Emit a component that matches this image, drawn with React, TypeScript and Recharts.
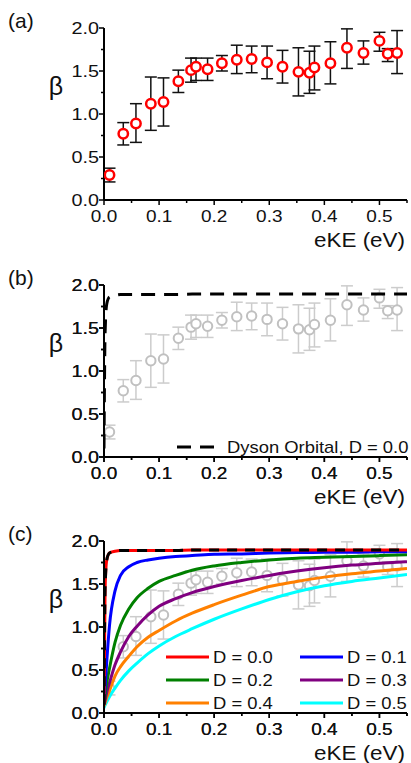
import React from 'react';
import { ComposedChart, Line, XAxis, YAxis, ErrorBar } from 'recharts';

// measured points (eKE in eV, beta with error bar ends)
const eke = [0.010, 0.035, 0.058, 0.085, 0.108, 0.135, 0.158, 0.167, 0.188, 0.214, 0.241, 0.268, 0.296, 0.324, 0.353, 0.373, 0.382, 0.411, 0.441, 0.471, 0.500, 0.515, 0.532];
const beta = [0.29, 0.77, 0.89, 1.12, 1.14, 1.38, 1.51, 1.55, 1.52, 1.59, 1.63, 1.64, 1.60, 1.55, 1.49, 1.48, 1.54, 1.59, 1.77, 1.71, 1.85, 1.70, 1.71];
const betaHi = [0.37, 0.90, 1.12, 1.43, 1.42, 1.51, 1.65, 1.65, 1.65, 1.68, 1.80, 1.79, 1.79, 1.74, 1.77, 1.73, 1.79, 1.84, 1.99, 1.85, 1.95, 1.76, 1.97];
const betaLo = [0.21, 0.64, 0.67, 0.81, 0.86, 1.25, 1.37, 1.39, 1.39, 1.50, 1.47, 1.48, 1.41, 1.36, 1.21, 1.24, 1.28, 1.35, 1.53, 1.58, 1.73, 1.61, 1.47];

// model curves
const curveX = [0, 0.002, 0.005, 0.01, 0.02, 0.03, 0.045, 0.06, 0.08, 0.1, 0.13, 0.16, 0.2, 0.25, 0.3, 0.35, 0.4, 0.45, 0.5, 0.55];
const d00 = [0.1, 1.45, 1.78, 1.86, 1.88, 1.89, 1.89, 1.89, 1.89, 1.89, 1.89, 1.895, 1.895, 1.895, 1.895, 1.895, 1.895, 1.895, 1.895, 1.895];
const d01 = [0.1, 0.3, 0.6, 1.02, 1.42, 1.6, 1.7, 1.75, 1.78, 1.8, 1.82, 1.83, 1.845, 1.85, 1.86, 1.865, 1.87, 1.87, 1.875, 1.875];
const d02 = [0.1, 0.2, 0.35, 0.52, 0.82, 1.02, 1.21, 1.34, 1.45, 1.53, 1.6, 1.66, 1.71, 1.75, 1.78, 1.8, 1.81, 1.82, 1.83, 1.84];
const d03 = [0.1, 0.15, 0.24, 0.35, 0.56, 0.71, 0.89, 1.01, 1.14, 1.24, 1.33, 1.4, 1.47, 1.54, 1.6, 1.65, 1.69, 1.72, 1.74, 1.76];
const d04 = [0.08, 0.12, 0.18, 0.26, 0.43, 0.54, 0.66, 0.77, 0.88, 0.96, 1.07, 1.16, 1.26, 1.37, 1.47, 1.53, 1.58, 1.62, 1.65, 1.68];
const d05 = [0.06, 0.09, 0.13, 0.19, 0.29, 0.38, 0.49, 0.58, 0.69, 0.78, 0.89, 0.98, 1.09, 1.21, 1.32, 1.41, 1.48, 1.53, 1.57, 1.61];

const xTicks = [0, 0.05, 0.1, 0.15, 0.2, 0.25, 0.3, 0.35, 0.4, 0.45, 0.5, 0.55];
const yTicks = [0, 0.25, 0.5, 0.75, 1, 1.25, 1.5, 1.75, 2];

const curves = [
  { name: 'D = 0.0', color: '#ff0000', vals: d00 },
  { name: 'D = 0.1', color: '#0000ff', vals: d01 },
  { name: 'D = 0.2', color: '#008000', vals: d02 },
  { name: 'D = 0.3', color: '#800080', vals: d03 },
  { name: 'D = 0.4', color: '#ff8000', vals: d04 },
  { name: 'D = 0.5', color: '#00ffff', vals: d05 },
];

const FONT = "'Liberation Sans', Arial, sans-serif";
const W = 411;
const H = 256;
const MARGIN = { top: 28, right: 4, bottom: 16, left: 44 };

const points = eke.map((x, i) => ({ x, y: beta[i], err: [beta[i] - betaLo[i], betaHi[i] - beta[i]] }));
const toXY = (vals: number[]) => curveX.map((x, i) => ({ x, y: vals[i] }));

function XTick({ x, y, payload }: any) {
  const v = payload.value;
  const major = Math.abs(v * 10 - Math.round(v * 10)) < 1e-6;
  return (
    <g>
      <line x1={x} x2={x} y1={y} y2={y + (major ? 5 : 3)} stroke="#000" strokeWidth={1.5} />
      {major && (
        <text transform={`translate(${x},${y + 22}) scale(1.15,1)`} textAnchor="middle" fontSize={16.5} fontFamily={FONT} fill="#111">
          {v.toFixed(1)}
        </text>
      )}
    </g>
  );
}

function YTick({ x, y, payload }: any) {
  const v = payload.value;
  const major = Math.abs(v * 2 - Math.round(v * 2)) < 1e-6;
  return (
    <g>
      <line x1={x - (major ? 5 : 3)} x2={x} y1={y} y2={y} stroke="#000" strokeWidth={1.5} />
      {major && (
        <text transform={`translate(${x - 5},${y + 6}) scale(1.2,1)`} textAnchor="end" fontSize={16.5} fontFamily={FONT} fill="#111">
          {v.toFixed(1)}
        </text>
      )}
    </g>
  );
}

function Axes() {
  return [
    <XAxis key="x" type="number" dataKey="x" domain={[0, 0.55]} ticks={xTicks} interval={0} allowDataOverflow
      axisLine={{ stroke: '#000', strokeWidth: 2 }} tickLine={false} tickSize={0} tickMargin={0} tick={<XTick />} height={40} />,
    <YAxis key="y" type="number" dataKey="y" domain={[0, 2]} ticks={yTicks} interval={0} allowDataOverflow
      axisLine={{ stroke: '#000', strokeWidth: 2 }} tickLine={false} tickSize={0} tickMargin={0} tick={<YTick />} width={60} />,
  ];
}

// points drawn as a stroke-less Line with error bars
function Points({ mark, bar, sw }: { mark: string; bar: string; sw: number }) {
  return (
    <Line data={points} dataKey="y" stroke="none" isAnimationActive={false} activeDot={false}
      dot={(p: any) => <circle key={p.index} cx={p.cx} cy={p.cy} r={4.7} fill="#fff" stroke={mark} strokeWidth={sw} />}>
      <ErrorBar dataKey="err" direction="y" width={6} stroke={bar} strokeWidth={1.5} />
    </Line>
  );
}

function PanelA() {
  return (
    <ComposedChart width={W} height={H} margin={MARGIN}>
      {Axes()}
      {Points({ mark: '#ff0000', bar: '#111', sw: 2.5 })}
    </ComposedChart>
  );
}

function GrayPoints() {
  return (
    <ComposedChart width={W} height={H} margin={MARGIN}>
      {Axes()}
      {Points({ mark: '#c0c0c0', bar: '#cccccc', sw: 2 })}
    </ComposedChart>
  );
}

function PanelB() {
  return (
    <ComposedChart width={W} height={H} margin={MARGIN}>
      {Axes()}
      <Line data={toXY(d00)} dataKey="y" type="monotone" stroke="#000" strokeWidth={3} strokeDasharray="14 9" dot={false} isAnimationActive={false} />
    </ComposedChart>
  );
}

function PanelC() {
  return (
    <ComposedChart width={W} height={H} margin={MARGIN}>
      {Axes()}
      {curves.slice().reverse().map(c => (
        <Line key={c.name} data={toXY(c.vals)} dataKey="y" type="monotone" stroke={c.color} strokeWidth={3} dot={false} isAnimationActive={false} />
      ))}
      <Line data={toXY(d00)} dataKey="y" type="monotone" stroke="#000" strokeWidth={3} strokeDasharray="10 8" dot={false} isAnimationActive={false} />
    </ComposedChart>
  );
}

const TXT = { fontFamily: FONT, fill: '#111' };

function Overlay() {
  const tops = [0, 257, 513];
  const tags = ['(a)', '(b)', '(c)'];
  return (
    <svg width={W} height={763} style={{ position: 'absolute', left: 0, top: 0, pointerEvents: 'none' }}>
      {tops.map((t, i) => (
        <g key={i}>
          <text x={8} y={t + 28} fontSize={21} {...TXT}>{tags[i]}</text>
          <text x={56} y={t + 95} fontSize={25} textAnchor="middle" {...TXT}>β</text>
          <text transform={`translate(405,${t + 247}) scale(1.15,1)`} fontSize={19.5} textAnchor="end" {...TXT}>eKE (eV)</text>
        </g>
      ))}
      {/* legend (b) */}
      <line x1={177} x2={219} y1={447} y2={447} stroke="#000" strokeWidth={3} strokeDasharray="14 9" />
      <text transform="translate(227,453) scale(1.15,1)" fontSize={16} {...TXT}>Dyson Orbital, D = 0.0</text>
      {/* legend (c) */}
      {curves.map((c, i) => {
        const col = i % 2;
        const row = Math.floor(i / 2);
        const lx = col === 0 ? 166 : 300;
        const cy = 657 + row * 23;
        return (
          <g key={c.name}>
            <line x1={lx} x2={lx + 43} y1={cy} y2={cy} stroke={c.color} strokeWidth={3} />
            <text transform={`translate(${lx + 47},${cy + 6}) scale(1.15,1)`} fontSize={16} {...TXT}>{c.name}</text>
          </g>
        );
      })}
    </svg>
  );
}

const layer = (top: number) => ({ position: 'absolute' as const, left: 0, top });

export default function App() {
  return (
    <div style={{ position: 'absolute', left: 0, top: 0, width: W, height: 763, background: '#fff' }}>
      <div style={layer(0)}><PanelA /></div>
      <div style={layer(257)}><GrayPoints /></div>
      <div style={layer(257)}><PanelB /></div>
      <div style={layer(513)}><GrayPoints /></div>
      <div style={layer(513)}><PanelC /></div>
      <Overlay />
    </div>
  );
}
